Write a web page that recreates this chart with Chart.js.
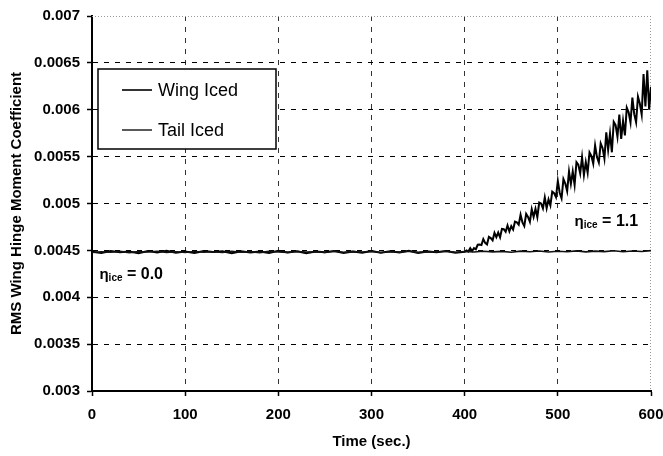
<!DOCTYPE html>
<html>
<head>
<meta charset="utf-8">
<script src="https://cdn.jsdelivr.net/npm/chart.js@4.4.1/dist/chart.umd.min.js"></script>
<style>
  html, body { margin: 0; padding: 0; background: #fff; }
  #wrap { position: relative; width: 663px; height: 456px; }
</style>
</head>
<body>
<div id="wrap"><canvas id="c" width="663" height="456"></canvas></div>
<script>
// ---- Data ----
const seriesNames = ["Wing Iced", "Tail Iced"];

const wingTime = [0,10,20,30,40,50,60,70,80,90,100,110,120,130,140,150,160,170,180,190,200,
  210,220,230,240,250,260,270,280,290,300,310,320,330,340,350,360,370,380,390,400,
  402,404,406,408,410,412,414,416,418,420,422,424,426,428,430,432,434,436,438,440,
  442,444,446,448,450,452,454,456,458,460,462,464,466,468,470,472,474,476,478,480,
  482,484,486,488,490,492,494,496,498,500,502,504,506,508,510,512,514,516,518,520,
  522,524,526,528,530,532,534,536,538,540,542,544,546,548,550,552,554,556,558,560,
  562,564,566,568,570,572,574,576,578,580,582,584,586,588,590,592,594,596,598,600];

const wingValues = [0.004485,0.004472,0.004494,0.004479,0.004489,0.004470,0.004492,0.004478,0.004496,0.004475,0.004488,
  0.004471,0.004493,0.004482,0.004490,0.004469,0.004491,0.004477,0.004488,0.004473,0.004495,
  0.004478,0.004490,0.004470,0.004489,0.004481,0.004494,0.004471,0.004487,0.004476,0.004492,
  0.004474,0.004490,0.004478,0.004495,0.004473,0.004488,0.004480,0.004493,0.004474,0.004484,
  0.004500,0.004488,0.004524,0.004494,0.004524,0.004512,0.004560,0.004562,0.004556,0.004620,
  0.004580,0.004564,0.004644,0.004632,0.004608,0.004686,0.004640,0.004690,0.004640,0.004730,
  0.004726,0.004698,0.004766,0.004702,0.004758,0.004722,0.004806,0.004798,0.004774,0.004880,
  0.004799,0.004760,0.004889,0.004857,0.004804,0.004939,0.004857,0.004943,0.004854,0.005010,
  0.005000,0.004948,0.005064,0.004949,0.005044,0.004980,0.005126,0.005111,0.005068,0.005240,
  0.005115,0.005056,0.005261,0.005213,0.005132,0.005341,0.005209,0.005341,0.005198,0.005440,
  0.005414,0.005322,0.005494,0.005303,0.005442,0.005328,0.005544,0.005507,0.005426,0.005620,
  0.005495,0.005436,0.005641,0.005593,0.005480,0.005759,0.005573,0.005747,0.005546,0.005870,
  0.005836,0.005712,0.005948,0.005689,0.005880,0.005726,0.006022,0.005973,0.005864,0.006130,
  0.005953,0.005866,0.006139,0.006067,0.005950,0.006380,0.006035,0.006420,0.006000,0.006245];

const tailTime = [0,10,20,30,40,50,60,70,80,90,100,110,120,130,140,150,160,170,180,190,200,
  210,220,230,240,250,260,270,280,290,300,310,320,330,340,350,360,370,380,390,400,
  410,420,430,440,450,460,470,480,490,500,510,520,530,540,550,560,570,580,590,600];

const tailValues = [0.004478,0.004486,0.004480,0.004489,0.004476,0.004487,0.004482,0.004490,0.004479,0.004485,
  0.004477,0.004488,0.004481,0.004486,0.004478,0.004491,0.004480,0.004487,0.004476,0.004489,0.004483,
  0.004479,0.004488,0.004481,0.004486,0.004477,0.004490,0.004480,0.004487,0.004482,0.004489,
  0.004478,0.004486,0.004481,0.004491,0.004479,0.004487,0.004483,0.004490,0.004480,0.004488,
  0.004482,0.004491,0.004484,0.004489,0.004480,0.004492,0.004485,0.004494,0.004483,0.004490,
  0.004486,0.004495,0.004484,0.004492,0.004487,0.004496,0.004485,0.004493,0.004488,0.004497];

const xTicks = [0, 100, 200, 300, 400, 500, 600];
const yTicks = [0.003, 0.0035, 0.004, 0.0045, 0.005, 0.0055, 0.006, 0.0065, 0.007];
const annotations = [
  { t: 518, v: 0.004755, value: "1.1" },
  { t: 8, v: 0.00420, value: "0.0" }
];

// ---- Build chart ----
const toPts = (xs, ys) => xs.map((x, i) => ({ x: x, y: ys[i] }));
const FONT = "'Liberation Sans', Arial, sans-serif";

const framePlugin = {
  id: 'frame',
  beforeDatasetsDraw(chart) {
    const { ctx, chartArea: a } = chart;
    ctx.save();
    ctx.strokeStyle = '#9a9a9a';
    ctx.lineWidth = 1;
    ctx.setLineDash([1, 2]);
    ctx.beginPath();
    ctx.moveTo(a.left, a.top + 0.5);
    ctx.lineTo(a.right, a.top + 0.5);
    ctx.moveTo(a.right - 0.5, a.top);
    ctx.lineTo(a.right - 0.5, a.bottom);
    ctx.stroke();
    ctx.restore();
  },
  afterDraw(chart) {
    const { ctx, scales } = chart;
    const xs = scales.x, ys = scales.y;
    ctx.save();
    // legend box
    const bx = 98, by = 69, bw = 178, bh = 80;
    ctx.fillStyle = '#fff';
    ctx.fillRect(bx, by, bw, bh);
    ctx.strokeStyle = '#000';
    ctx.lineWidth = 1.5;
    ctx.setLineDash([]);
    ctx.strokeRect(bx, by, bw, bh);
    const rows = [{ y: 90, w: 1.6 }, { y: 130, w: 1.3 }];
    ctx.font = '18px ' + FONT;
    ctx.textBaseline = 'middle';
    ctx.fillStyle = '#000';
    rows.forEach((r, i) => {
      ctx.lineWidth = r.w;
      ctx.beginPath();
      ctx.moveTo(122, r.y);
      ctx.lineTo(152, r.y);
      ctx.stroke();
      ctx.fillText(seriesNames[i], 158, r.y + 1);
    });
    // eta annotations
    ctx.textBaseline = 'alphabetic';
    annotations.forEach(an => {
      let x = xs.getPixelForValue(an.t);
      const y = ys.getPixelForValue(an.v);
      ctx.font = 'bold 15px ' + FONT;
      ctx.fillText('η', x, y);
      x += ctx.measureText('η').width;
      ctx.font = 'bold 10px ' + FONT;
      ctx.fillText('ice', x, y + 2);
      x += ctx.measureText('ice').width;
      ctx.font = 'bold 16px ' + FONT;
      ctx.fillText(' = ' + an.value, x, y);
    });
    ctx.restore();
  }
};

new Chart(document.getElementById('c'), {
  type: 'line',
  data: {
    datasets: [
      {
        label: seriesNames[1],
        data: toPts(tailTime, tailValues),
        borderColor: '#111',
        borderWidth: 1.6,
        pointRadius: 0,
        tension: 0,
        fill: false
      },
      {
        label: seriesNames[0],
        data: toPts(wingTime, wingValues),
        borderColor: '#000',
        borderWidth: 2,
        pointRadius: 0,
        tension: 0,
        fill: false
      }
    ]
  },
  options: {
    responsive: false,
    animation: false,
    devicePixelRatio: 1,
    layout: { padding: { top: 15, right: 0, bottom: 0, left: 0 } },
    plugins: {
      legend: { display: false },
      tooltip: { enabled: false }
    },
    scales: {
      x: {
        type: 'linear',
        min: 0, max: 600,
        afterFit: s => { s.height = 65; s.paddingRight = 12; s.paddingLeft = 0; },
        afterBuildTicks: s => { s.ticks = xTicks.map(v => ({ value: v })); },
        ticks: {
          color: '#000',
          padding: 10,
          maxRotation: 0,
          font: { family: FONT, size: 15, weight: 'bold' }
        },
        grid: {
          color: ctx => (ctx.tick && (ctx.tick.value === 0 || ctx.tick.value === 600)) ? 'rgba(0,0,0,0)' : '#333',
          lineWidth: 1,
          tickLength: 5,
          tickColor: '#000',
          tickWidth: 1.5,
          tickBorderDash: []
        },
        border: { display: true, color: '#000', width: 2, dash: [5, 6] },
        title: {
          display: true,
          text: 'Time (sec.)',
          color: '#000',
          padding: { top: 0, bottom: 5 },
          font: { family: FONT, size: 15, weight: 'bold' }
        }
      },
      y: {
        type: 'linear',
        min: 0.003, max: 0.007,
        afterFit: s => { s.width = 92; },
        afterBuildTicks: s => { s.ticks = yTicks.map(v => ({ value: v })); },
        ticks: {
          color: '#000',
          padding: 7,
          font: { family: FONT, size: 15, weight: 'bold' },
          callback: v => String(+v.toFixed(4))
        },
        grid: {
          color: ctx => (ctx.tick && (Math.abs(ctx.tick.value - 0.007) < 1e-9 || Math.abs(ctx.tick.value - 0.003) < 1e-9)) ? 'rgba(0,0,0,0)' : '#000',
          lineWidth: 1,
          tickLength: 5,
          tickColor: '#000',
          tickWidth: 1.5,
          tickBorderDash: []
        },
        border: { display: true, color: '#000', width: 2, dash: [5, 6] },
        title: {
          display: true,
          text: 'RMS Wing Hinge Moment Coefficient',
          color: '#000',
          padding: { top: 8, bottom: 0 },
          font: { family: FONT, size: 15, weight: 'bold' }
        }
      }
    }
  },
  plugins: [framePlugin]
});
</script>
</body>
</html>
